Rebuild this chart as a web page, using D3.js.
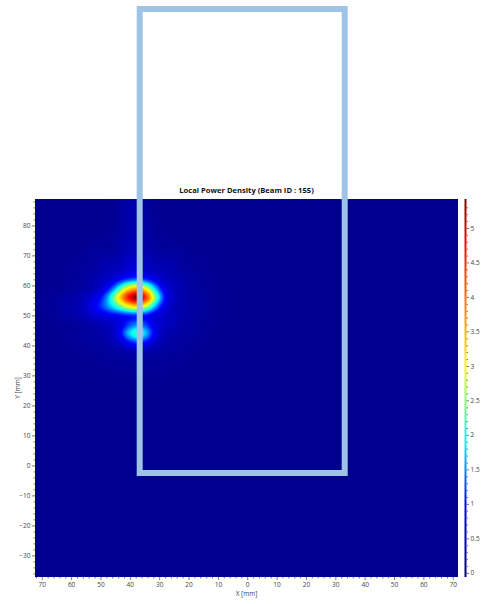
<!DOCTYPE html>
<html>
<head>
<meta charset="utf-8">
<script src="https://cdn.jsdelivr.net/npm/d3@7"></script>
<style>
  body { margin: 0; background: #fff; }
  svg { display: block; }
  text { font-family: "Open Sans", "Noto Sans", sans-serif; }
</style>
</head>
<body>
<svg id="chart" width="485" height="604"></svg>
<script>
// Sampling grid of the power density map (mm)
const gridX = [-61.5, -58.5, -55.5, -52.5, -49.5, -46.5, -43.5, -40.5, -37.5, -34.5, -31.5, -28.5, -25.5, -22.5, -19.5, -16.5, -13.5];
const gridY = [89, 86, 83, 80, 77, 74, 71, 68, 65, 62, 59, 56, 53, 50, 47, 44, 41, 38, 35, 32];
// Local power density, one row per gridY value, one column per gridX value
const density = [
  [.12,.12,.12,.12,.12,.14,.20,.31,.33,.23,.15,.12,.12,.12,.12,.12,.12],
  [.12,.12,.12,.12,.12,.14,.21,.32,.34,.24,.15,.13,.12,.12,.12,.12,.12],
  [.12,.12,.13,.13,.13,.15,.21,.32,.34,.24,.16,.13,.13,.13,.13,.12,.12],
  [.13,.13,.13,.13,.14,.16,.23,.34,.36,.26,.18,.14,.14,.13,.13,.13,.13],
  [.13,.13,.14,.15,.15,.18,.25,.36,.38,.28,.20,.16,.15,.15,.14,.13,.13],
  [.14,.14,.15,.16,.18,.20,.28,.39,.42,.31,.23,.19,.18,.16,.15,.14,.14],
  [.15,.16,.17,.24,.21,.24,.32,.44,.47,.36,.27,.23,.21,.24,.17,.16,.15],
  [.16,.17,.20,.22,.33,.34,.43,.56,.58,.48,.38,.33,.33,.22,.20,.17,.16],
  [.17,.19,.23,.26,.36,.45,.51,.69,.72,.59,.46,.44,.36,.26,.23,.19,.17],
  [.18,.21,.25,.36,.46,.63,.96,1.26,1.39,1.15,.84,.55,.43,.36,.25,.21,.18],
  [.19,.23,.28,.39,.66,1.20,2.09,3.10,3.53,2.92,1.74,.87,.49,.35,.28,.23,.19],
  [.30,.34,.46,.71,1.09,1.93,3.25,4.69,5.33,4.40,2.55,1.17,.56,.38,.29,.24,.20],
  [.32,.36,.52,.85,1.20,1.70,2.29,2.96,3.28,2.73,1.67,.87,.50,.36,.29,.24,.20],
  [.30,.33,.43,.65,.76,.90,1.00,1.13,1.19,1.06,.79,.58,.45,.34,.28,.23,.20],
  [.19,.22,.26,.31,.42,.53,.76,1.20,1.45,1.20,.76,.53,.42,.31,.26,.22,.19],
  [.17,.20,.23,.27,.33,.45,.88,1.66,2.12,1.66,.88,.45,.33,.27,.23,.20,.17],
  [.16,.18,.21,.24,.27,.36,.57,.98,1.21,.98,.57,.36,.27,.24,.21,.18,.16],
  [.15,.16,.18,.20,.22,.24,.29,.36,.40,.36,.29,.24,.22,.20,.18,.16,.15],
  [.14,.15,.16,.17,.19,.20,.21,.22,.22,.22,.21,.20,.19,.17,.16,.15,.14],
  [.13,.14,.14,.15,.16,.17,.18,.18,.18,.18,.18,.17,.16,.15,.14,.14,.13]
];
const backgroundDensity = 0.12;

// Axis ticks
const xTicks = [-70, -60, -50, -40, -30, -20, -10, 0, 10, 20, 30, 40, 50, 60, 70];
const yTicks = [-30, -20, -10, 0, 10, 20, 30, 40, 50, 60, 70, 80];
const colorTicks = [0, 0.5, 1, 1.5, 2, 2.5, 3, 3.5, 4, 4.5, 5];

// Colour map
const colorStops = [0, 1.0, 1.9, 3.0, 4.8, 5.42];
const colorRange = ["#000080", "#0000ff", "#00ffff", "#ffff00", "#ff0000", "#800000"];

const title = "Local Power Density (Beam ID : 155)";

const svg = d3.select("#chart");
const plot = { left: 35, right: 458, top: 199, bottom: 577 };

const x = d3.scaleLinear().domain([-72.3, 71.8]).range([plot.left, plot.right]);
const y = d3.scaleLinear().domain([-37.2, 88.8]).range([plot.bottom, plot.top]);
const color = d3.scaleLinear().domain(colorStops).range(colorRange)
  .interpolate(d3.interpolateRgb).clamp(true);
const cbar = d3.scaleLinear().domain([-0.06, 5.42]).range([plot.bottom, plot.top]);

// Catmull-Rom cubic through four samples
function cubic(p0, p1, p2, p3, t) {
  return p1 + 0.5 * t * (p2 - p0 + t * (2 * p0 - 5 * p1 + 4 * p2 - p3 + t * (3 * (p1 - p2) + p3 - p0)));
}

const nc = gridX.length, nr = gridY.length;
const stepX = gridX[1] - gridX[0], stepY = gridY[0] - gridY[1];
function cell(i, j) {
  i = Math.max(0, Math.min(nc - 1, i));
  j = Math.max(0, Math.min(nr - 1, j));
  return density[j][i];
}
function sample(X, Y) {
  const dx = Math.max(0, gridX[0] - X, X - gridX[nc - 1]);
  const dy = Math.max(0, Y - gridY[0], gridY[nr - 1] - Y);
  const fi = Math.max(0, Math.min(nc - 1, (X - gridX[0]) / stepX));
  const fj = Math.max(0, Math.min(nr - 1, (gridY[0] - Y) / stepY));
  const i = Math.min(nc - 2, Math.floor(fi)), j = Math.min(nr - 2, Math.floor(fj));
  const t = fi - i, u = fj - j;
  const r = [];
  for (let m = -1; m <= 2; m++) {
    r.push(cubic(cell(i - 1, j + m), cell(i, j + m), cell(i + 1, j + m), cell(i + 2, j + m), t));
  }
  let v = Math.max(0, cubic(r[0], r[1], r[2], r[3], u));
  const d = Math.hypot(dx, dy);
  if (d > 0) v = backgroundDensity + (v - backgroundDensity) * Math.exp(-d / 5);
  return v;
}

// Heat map raster
const W = plot.right - plot.left, H = plot.bottom - plot.top;
const canvas = document.createElement("canvas");
canvas.width = W; canvas.height = H;
const ctx = canvas.getContext("2d");
const img = ctx.createImageData(W, H);
for (let py = 0; py < H; py++) {
  const Y = y.invert(plot.top + py + 0.5);
  for (let px = 0; px < W; px++) {
    const X = x.invert(plot.left + px + 0.5);
    const c = d3.rgb(color(sample(X, Y)));
    const k = (py * W + px) * 4;
    img.data[k] = c.r; img.data[k + 1] = c.g; img.data[k + 2] = c.b; img.data[k + 3] = 255;
  }
}
ctx.putImageData(img, 0, 0);
svg.append("image")
  .attr("x", plot.left).attr("y", plot.top)
  .attr("width", W).attr("height", H)
  .attr("preserveAspectRatio", "none")
  .attr("href", canvas.toDataURL());

// Title
svg.append("text")
  .attr("x", (plot.left + plot.right) / 2).attr("y", 192.5)
  .attr("text-anchor", "middle")
  .attr("font-size", 7.6).attr("font-weight", "bold").attr("fill", "#111")
  .text(title);

const tickColor = "#555", labelColor = "#444";
function styleAxis(g) {
  g.select(".domain").remove();
  g.selectAll(".tick line").attr("stroke", tickColor).attr("stroke-width", 0.8);
  g.selectAll(".tick text").attr("fill", labelColor).attr("font-size", 6.5)
    .attr("font-family", "'Open Sans', 'Noto Sans', sans-serif");
}
const minorX = d3.range(-72, 72, 2).filter(v => v % 10 !== 0);
const minorY = d3.range(-36, 89, 2).filter(v => v % 10 !== 0);

// X axis (distance labels shown as absolute values)
svg.append("g").attr("transform", `translate(0,${plot.bottom})`)
  .call(d3.axisBottom(x).tickValues(minorX).tickSize(1.5).tickFormat(""))
  .call(styleAxis);
svg.append("g").attr("transform", `translate(0,${plot.bottom})`)
  .call(d3.axisBottom(x).tickValues(xTicks).tickSize(3).tickPadding(2).tickFormat(d => Math.abs(d)))
  .call(styleAxis);

// Y axis
svg.append("g").attr("transform", `translate(${plot.left},0)`)
  .call(d3.axisLeft(y).tickValues(minorY).tickSize(1.5).tickFormat(""))
  .call(styleAxis);
svg.append("g").attr("transform", `translate(${plot.left},0)`)
  .call(d3.axisLeft(y).tickValues(yTicks).tickSize(3).tickPadding(1.5))
  .call(styleAxis);

// Axis titles
svg.append("text")
  .attr("x", (plot.left + plot.right) / 2).attr("y", 596)
  .attr("text-anchor", "middle").attr("font-size", 6.5).attr("fill", labelColor)
  .text("X [mm]");
svg.append("text")
  .attr("transform", `translate(19.5,${(plot.top + plot.bottom) / 2}) rotate(-90)`)
  .attr("text-anchor", "middle").attr("font-size", 6.5).attr("fill", labelColor)
  .text("Y [mm]");

// Colour bar
const cbX = 464.5, cbW = 2;
const grad = svg.append("defs").append("linearGradient")
  .attr("id", "cbgrad").attr("x1", 0).attr("y1", 1).attr("x2", 0).attr("y2", 0);
const dMin = cbar.domain()[0], dMax = cbar.domain()[1];
colorStops.forEach((v, k) => {
  grad.append("stop")
    .attr("offset", Math.max(0, (v - dMin) / (dMax - dMin)))
    .attr("stop-color", colorRange[k]);
});
svg.append("rect")
  .attr("x", cbX).attr("y", plot.top)
  .attr("width", cbW).attr("height", plot.bottom - plot.top)
  .attr("fill", "url(#cbgrad)");
const minorC = d3.range(0, 54).map(v => v / 10).filter(v => Math.abs(v * 2 - Math.round(v * 2)) > 1e-6);
svg.append("g").attr("transform", `translate(${cbX + cbW},0)`)
  .call(d3.axisRight(cbar).tickValues(minorC).tickSize(1.5).tickFormat(""))
  .call(styleAxis);
svg.append("g").attr("transform", `translate(${cbX + cbW},0)`)
  .call(d3.axisRight(cbar).tickValues(colorTicks).tickSize(2.5).tickPadding(1.5).tickFormat(d3.format("")))
  .call(styleAxis);

// Highlight frame
svg.append("rect")
  .attr("x", 139.7).attr("y", 9)
  .attr("width", 205).attr("height", 464)
  .attr("fill", "none").attr("stroke", "#9dc3e6").attr("stroke-width", 6);
</script>
</body>
</html>
